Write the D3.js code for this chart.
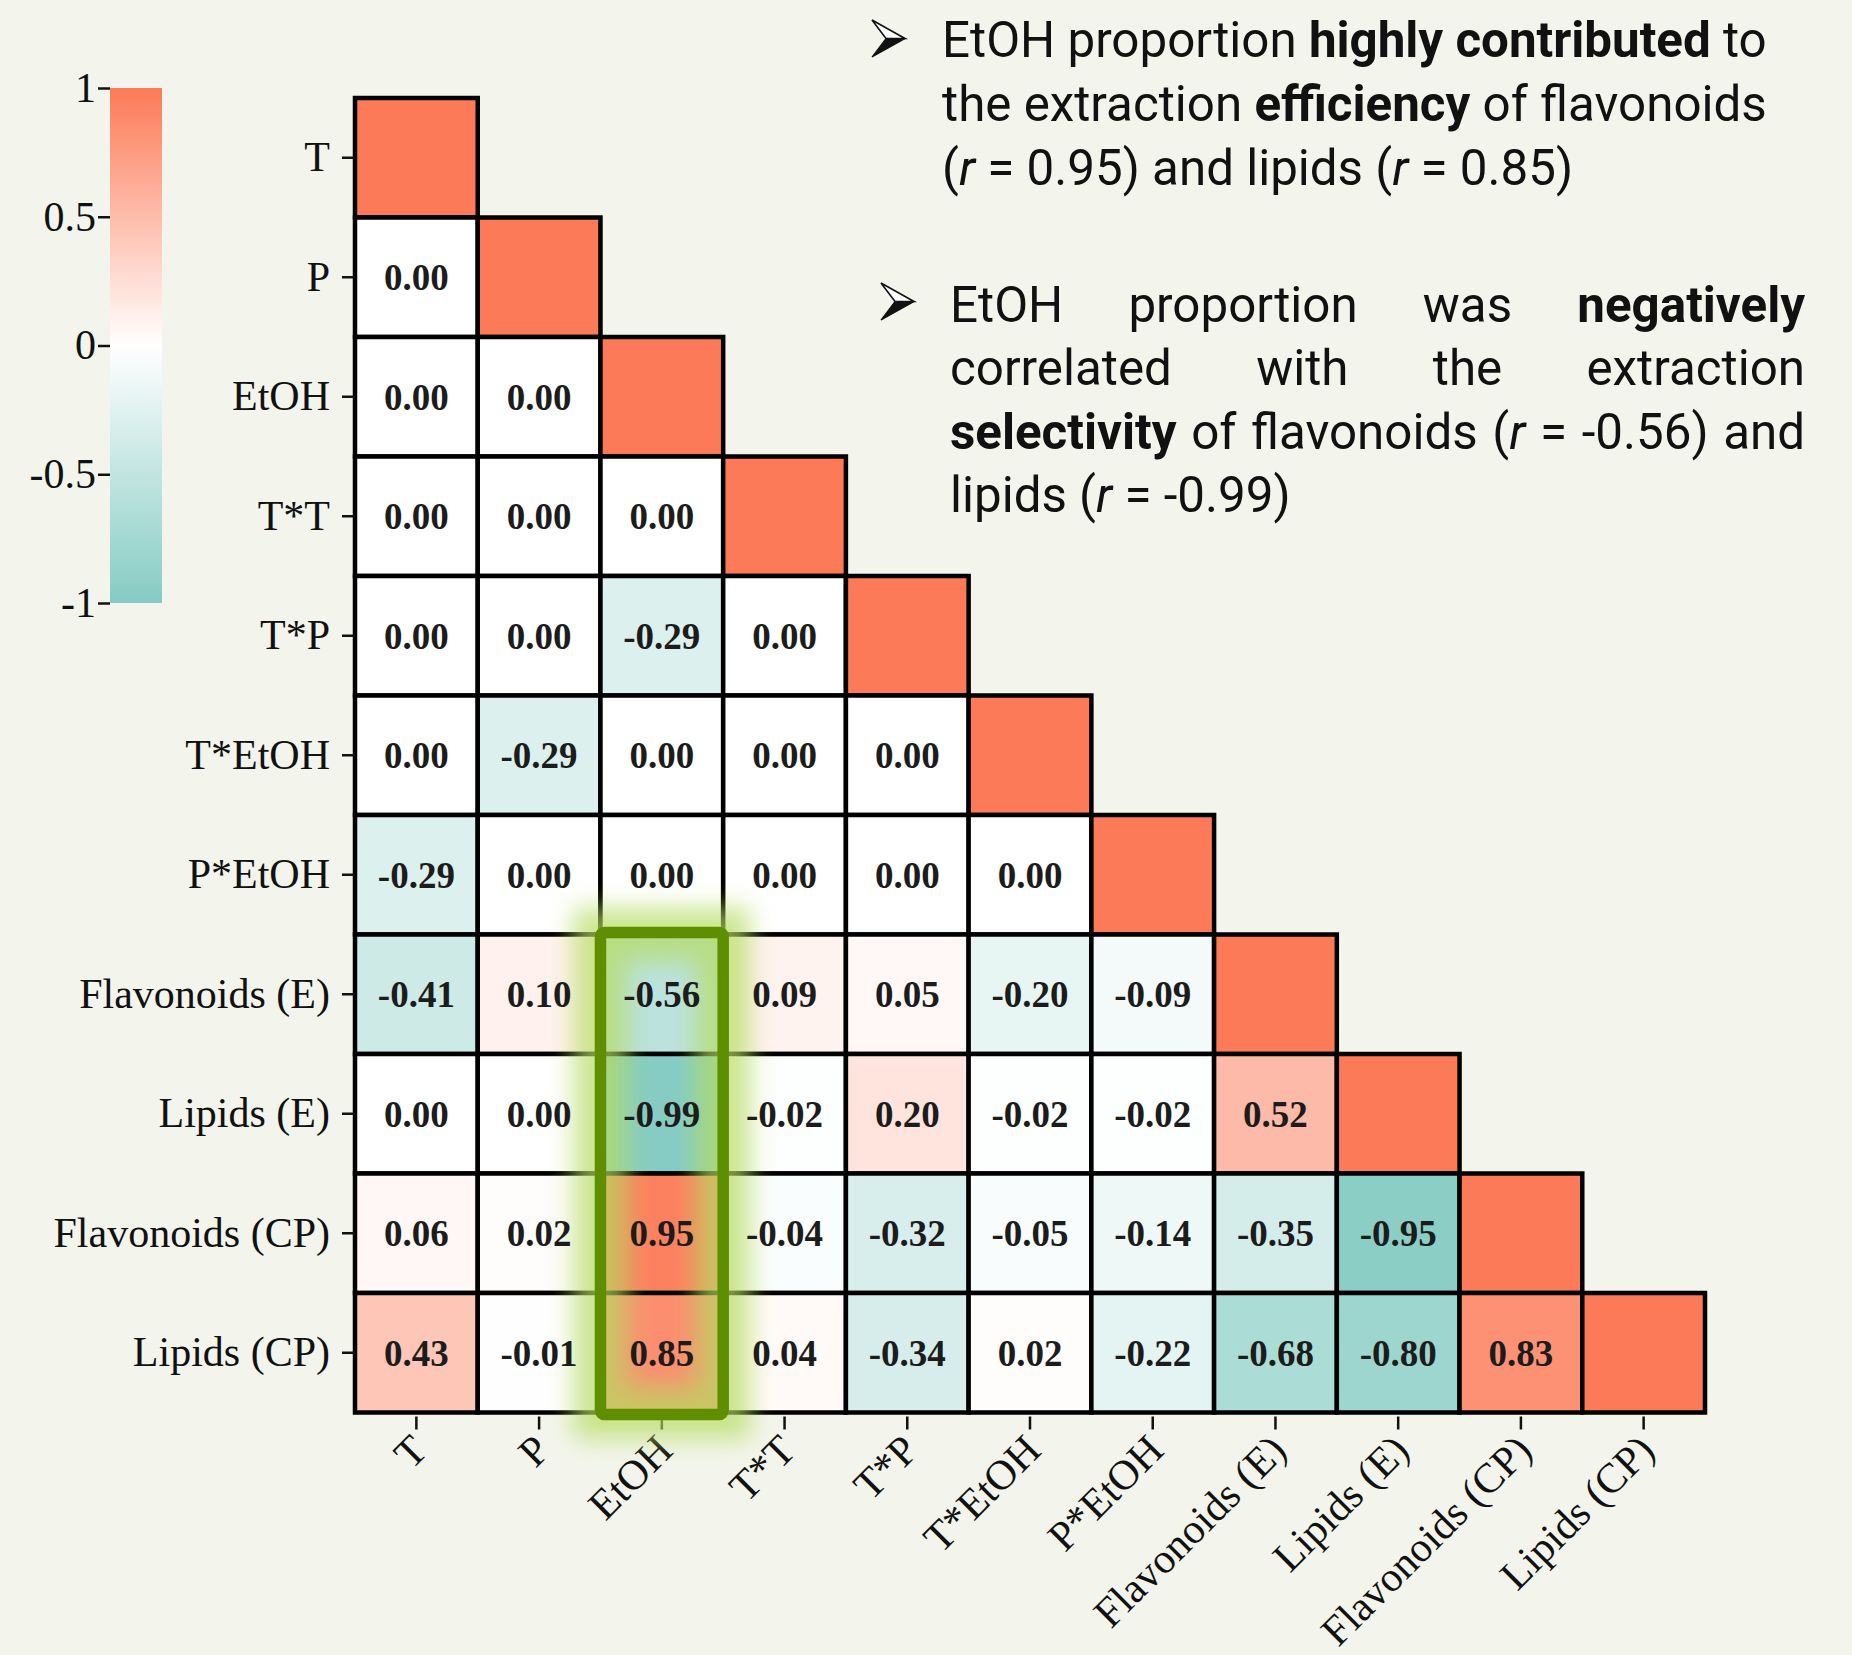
<!DOCTYPE html>
<html>
<head>
<meta charset="utf-8">
<script src="https://cdn.jsdelivr.net/npm/d3@7"></script>
<style>
  html, body { margin: 0; padding: 0; background: #f3f5ec; }
  svg { display: block; }
  .serif { font-family: "Liberation Serif", "Times New Roman", serif; }
  .note { font-family: Roboto, "Noto Sans", sans-serif; fill: #111; }
</style>
</head>
<body>
<div id="chart"></div>
<script>
// variables (same order on both axes)
var vars = ["T", "P", "EtOH", "T*T", "T*P", "T*EtOH", "P*EtOH",
            "Flavonoids (E)", "Lipids (E)", "Flavonoids (CP)", "Lipids (CP)"];

// lower triangle of the correlation matrix, one row per variable
var row_T      = [1];
var row_P      = [0.00, 1];
var row_EtOH   = [0.00, 0.00, 1];
var row_TT     = [0.00, 0.00, 0.00, 1];
var row_TP     = [0.00, 0.00, -0.29, 0.00, 1];
var row_TEtOH  = [0.00, -0.29, 0.00, 0.00, 0.00, 1];
var row_PEtOH  = [-0.29, 0.00, 0.00, 0.00, 0.00, 0.00, 1];
var row_FlavE  = [-0.41, 0.10, -0.56, 0.09, 0.05, -0.20, -0.09, 1];
var row_LipE   = [0.00, 0.00, -0.99, -0.02, 0.20, -0.02, -0.02, 0.52, 1];
var row_FlavCP = [0.06, 0.02, 0.95, -0.04, -0.32, -0.05, -0.14, -0.35, -0.95, 1];
var row_LipCP  = [0.43, -0.01, 0.85, 0.04, -0.34, 0.02, -0.22, -0.68, -0.80, 0.83, 1];
var corrRows = [row_T, row_P, row_EtOH, row_TT, row_TP, row_TEtOH, row_PEtOH,
                row_FlavE, row_LipE, row_FlavCP, row_LipCP];

var colorTicks = [1, 0.5, 0, -0.5, -1];

// highlighted block: EtOH column, the four response rows
var highlightCol = "EtOH",
    highlightRows = ["Flavonoids (E)", "Lipids (E)", "Flavonoids (CP)", "Lipids (CP)"];

// annotation text: [text, style] pieces per line
var note1 = [
  [["EtOH proportion ", "n"], ["highly contributed", "b"], [" to", "n"]],
  [["the extraction ", "n"], ["efficiency", "b"], [" of flavonoids", "n"]],
  [["(", "n"], ["r", "i"], [" = 0.95) and lipids (", "n"], ["r", "i"], [" = 0.85)", "n"]]
];
var note2 = [
  [["EtOH proportion was ", "n"], ["negatively", "b"]],
  [["correlated with the extraction", "n"]],
  [["selectivity", "b"], [" of flavonoids (", "n"], ["r", "i"], [" = -0.56) and", "n"]],
  [["lipids (", "n"], ["r", "i"], [" = -0.99)", "n"]]
];

var width = 1852, height = 1655,
    grid_left = 355, grid_right = 1705,
    grid_top = 98, grid_bottom = 1412.5,
    coral = "#fc7a57", teal = "#85cbc3",
    serif = "'Liberation Serif', 'Times New Roman', serif";

var svg = d3.select("#chart").append("svg")
  .attr("width", width)
  .attr("height", height);

svg.append("rect").attr("width", width).attr("height", height).attr("fill", "#f3f5ec");

var defs = svg.append("defs");
var grad = defs.append("linearGradient")
  .attr("id", "cbar").attr("x1", 0).attr("y1", 0).attr("x2", 0).attr("y2", 1);
grad.append("stop").attr("offset", "0%").attr("stop-color", coral);
grad.append("stop").attr("offset", "50%").attr("stop-color", "#ffffff");
grad.append("stop").attr("offset", "100%").attr("stop-color", teal);

defs.append("filter").attr("id", "glow")
  .attr("x", "-60%").attr("y", "-30%").attr("width", "220%").attr("height", "160%")
  .append("feGaussianBlur").attr("stdDeviation", 12);

var x = d3.scaleBand().domain(vars).range([grid_left, grid_right]);
var y = d3.scaleBand().domain(vars).range([grid_top, grid_bottom]);
var color = d3.scaleLinear().domain([-1, 0, 1]).range([teal, "#ffffff", coral]);

var cells = [];
corrRows.forEach(function (row, i) {
  row.forEach(function (v, j) {
    cells.push({ row: vars[i], col: vars[j], value: v, diag: i == j });
  });
});

var fmt = function (v) { return v.toFixed(2); };

// ---- cells
svg.append("g").selectAll("rect.cell")
  .data(cells).enter().append("rect")
  .attr("class", "cell")
  .attr("x", function (d) { return x(d.col); })
  .attr("y", function (d) { return y(d.row); })
  .attr("width", x.bandwidth())
  .attr("height", y.bandwidth())
  .attr("fill", function (d) { return color(d.value); })
  .attr("stroke", "#000")
  .attr("stroke-width", 4.5);

// ---- axes
var yAxis = svg.append("g")
  .attr("transform", "translate(" + grid_left + ",0)")
  .call(d3.axisLeft(y).tickSize(13).tickPadding(12));
var xAxis = svg.append("g")
  .attr("transform", "translate(0," + (grid_bottom + 4) + ")")
  .call(d3.axisBottom(x).tickSize(13).tickPadding(10));

[yAxis, xAxis].forEach(function (a) {
  a.select(".domain").remove();
  a.selectAll(".tick line").attr("stroke", "#111").attr("stroke-width", 2.5);
  a.selectAll(".tick text").attr("fill", "#111").style("font-size", "42px")
    .style("font-family", serif);
});

xAxis.selectAll(".tick text")
  .attr("text-anchor", "end")
  .attr("dy", null).attr("y", null)
  .attr("transform", "translate(13,36) rotate(-45)");

// ---- highlight glow
var hx = x(highlightCol),
    hy = y(highlightRows[0]),
    hh = y(highlightRows[highlightRows.length - 1]) + y.bandwidth() - hy;

svg.append("rect")
  .attr("x", hx).attr("y", hy)
  .attr("width", x.bandwidth()).attr("height", hh)
  .attr("fill", "none")
  .attr("stroke", "#b6dc60")
  .attr("stroke-width", 54)
  .attr("opacity", 0.7)
  .attr("filter", "url(#glow)");

// ---- cell labels
svg.append("g").selectAll("text.val")
  .data(cells.filter(function (d) { return !d.diag; })).enter().append("text")
  .attr("class", "val serif")
  .attr("x", function (d) { return x(d.col) + x.bandwidth() / 2; })
  .attr("y", function (d) { return y(d.row) + y.bandwidth() / 2; })
  .attr("dy", "0.35em")
  .attr("text-anchor", "middle")
  .style("font-size", "37px")
  .style("font-weight", "bold")
  .attr("fill", "#1c1c1c")
  .text(function (d) { return fmt(d.value); });

// ---- highlight frame
svg.append("rect")
  .attr("x", hx).attr("y", hy - 2)
  .attr("width", x.bandwidth()).attr("height", hh + 4)
  .attr("rx", 4)
  .attr("fill", "none")
  .attr("stroke", "#5f8f00")
  .attr("stroke-width", 11.5);

// ---- colour bar
var cScale = d3.scaleLinear().domain([-1, 1]).range([603, 88]);
svg.append("rect")
  .attr("x", 110).attr("y", cScale(1))
  .attr("width", 52).attr("height", cScale(-1) - cScale(1))
  .attr("fill", "url(#cbar)");
var cAxis = svg.append("g")
  .attr("transform", "translate(110,0)")
  .call(d3.axisLeft(cScale).tickValues(colorTicks).tickSize(12).tickPadding(2)
    .tickFormat(function (d) { return String(d); }));
cAxis.select(".domain").remove();
cAxis.selectAll(".tick line").attr("stroke", "#111").attr("stroke-width", 2.5);
cAxis.selectAll(".tick text").attr("fill", "#111").style("font-size", "42px")
  .style("font-family", serif);

// ---- notes on the right
var notes = svg.append("g").attr("class", "note");

function drawLine(pieces, x0, yb, size, justifyTo) {
  var t = notes.append("text").attr("x", x0).attr("y", yb).style("font-size", size + "px")
    .attr("xml:space", "preserve");
  pieces.forEach(function (p) {
    t.append("tspan")
      .style("font-weight", p[1] == "b" ? "bold" : "normal")
      .style("font-style", p[1] == "i" ? "italic" : "normal")
      .text(p[0]);
  });
  if (justifyTo) {
    var w = t.node().getComputedTextLength();
    var gaps = pieces.map(function (p) { return p[0]; }).join("").split(" ").length - 1;
    if (gaps > 0 && justifyTo > w) t.style("word-spacing", ((justifyTo - w) / gaps) + "px");
  }
  return t;
}

// fit font size so the first line spans as in the picture
var probe = drawLine(note1[0], 0, -100, 44);
var noteSize = 44 * 825 / probe.node().getComputedTextLength();
probe.remove();

var base1 = [57, 121, 185], base2 = [321.5, 385, 448.5, 512];
note1.forEach(function (ln, i) { drawLine(ln, 942, base1[i], noteSize, null); });
note2.forEach(function (ln, i) {
  drawLine(ln, 950, base2[i], noteSize, i < note2.length - 1 ? 1805 - 950 : null);
});

// arrowhead bullets: light upper facet, dark lower facet
var bullets = notes.selectAll("g.bullet")
  .data([[872, 20], [881, 283]]).enter().append("g")
  .attr("class", "bullet")
  .attr("transform", function (d) { return "translate(" + d[0] + "," + d[1] + ")"; });
bullets.append("path")
  .attr("d", "M0,0 L33,18.5 L14,18.5 Z")
  .attr("fill", "#fff").attr("stroke", "#111").attr("stroke-width", 1.6)
  .attr("stroke-linejoin", "miter");
bullets.append("path")
  .attr("d", "M14,18.5 L33,18.5 L0,37 Z")
  .attr("fill", "#111").attr("stroke", "#111").attr("stroke-width", 1.2);
</script>
</body>
</html>
